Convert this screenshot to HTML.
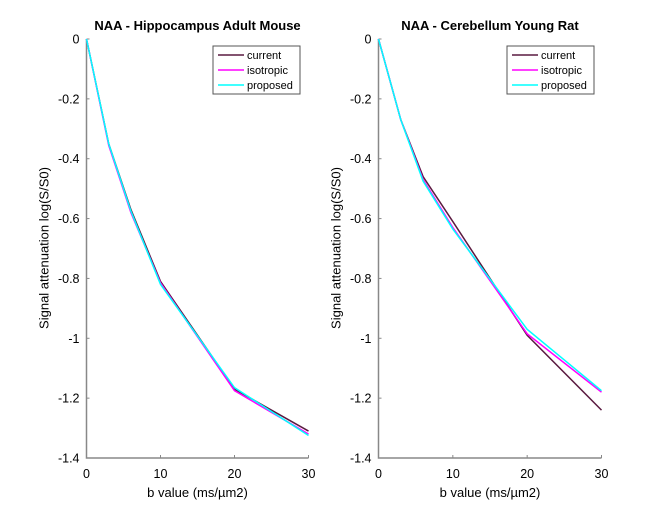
<!DOCTYPE html>
<html><head><meta charset="utf-8"><style>
body{margin:0;background:#fff}
svg{font-family:"Liberation Sans",sans-serif;display:block}
</style></head><body>
<svg id="c" width="665" height="515"></svg>
<script>
const bValues=[0,3,6,10,20,30];
const leftCurrent=[0,-0.35,-0.57,-0.81,-1.17,-1.31];
const leftIsotropic=[0,-0.355,-0.58,-0.815,-1.175,-1.32];
const leftProposed=[0,-0.35,-0.575,-0.82,-1.165,-1.325];
const rightCurrent=[0,-0.27,-0.46,-0.61,-0.99,-1.24];
const rightIsotropic=[0,-0.27,-0.47,-0.63,-0.985,-1.18];
const rightProposed=[0,-0.27,-0.475,-0.635,-0.97,-1.175];
const xTicks=[0,10,20,30];
const yTicks=[0,-0.2,-0.4,-0.6,-0.8,-1,-1.2,-1.4];
const seriesNames=["current","isotropic","proposed"];
const seriesColors=["#5a1a40","#ff00ff","#00ffff"];
const NS="http://www.w3.org/2000/svg";
const svg=document.getElementById('c');
function el(t,a,p){const e=document.createElementNS(NS,t);for(const k in a)e.setAttribute(k,a[k]);(p||svg).appendChild(e);return e;}
function panel(x0,x1,title,series,legX,id){
  const y0=39,y1=458;
  const g=el('g',{});
  
  
  const sx=v=>x0+(v/30)*(x1-x0);
  const sy=v=>y0+(-v/1.4)*(y1-y0);
  const t=el('text',{x:(x0+x1)/2,y:30,'text-anchor':'middle','font-size':13,'font-weight':'bold'},g);t.textContent=title;
  
  const ax=el('path',{d:`M${x0},${y0}V${y1}H${x1}`,stroke:'#888',fill:'none','stroke-width':1.5},g);
  
  yTicks.forEach(v=>{const y=sy(v);el('line',{x1:x0,x2:x0+3,y1:y,y2:y,stroke:'#888'},g);
    const tt=el('text',{x:x0-7,y:y+4.5,'text-anchor':'end','font-size':12.5},g);tt.textContent=String(v);
    });
  xTicks.forEach(v=>{const x=sx(v);el('line',{x1:x,x2:x,y1:y1,y2:y1-3,stroke:'#888'},g);
    const tt=el('text',{x:x,y:y1+20,'text-anchor':'middle','font-size':12.5},g);tt.textContent=String(v);
    });
  const xl=el('text',{x:(x0+x1)/2,y:497,'text-anchor':'middle','font-size':13},g);xl.textContent='b value (ms/µm2)';
  
  const yl=el('text',{transform:`translate(${x0-38},248) rotate(-90)`,'text-anchor':'middle','font-size':13},g);yl.textContent='Signal attenuation log(S/S0)';
  
  series.forEach((s,i)=>{const p=el('polyline',{points:bValues.map((b,j)=>sx(b)+','+sy(s[j])).join(' '),fill:'none',stroke:seriesColors[i],'stroke-width':1.5},g);
    });
  const lg=el('g',{},g);
  
  el('rect',{x:legX,y:46,width:87,height:48,fill:'#fff',stroke:'#555','stroke-width':1},lg);
  seriesNames.forEach((n,i)=>{const y=59+i*15;
    el('line',{x1:legX+5,x2:legX+31,y1:y-4,y2:y-4,stroke:seriesColors[i],'stroke-width':1.5},lg);
    const tt=el('text',{x:legX+34,y:y,'font-size':11},lg);tt.textContent=n;
    });
}
panel(86.5,308.5,'NAA - Hippocampus Adult Mouse',[leftCurrent,leftIsotropic,leftProposed],213,'left');
panel(378.5,601.5,'NAA - Cerebellum Young Rat',[rightCurrent,rightIsotropic,rightProposed],507,'right');
</script>
</body></html>
